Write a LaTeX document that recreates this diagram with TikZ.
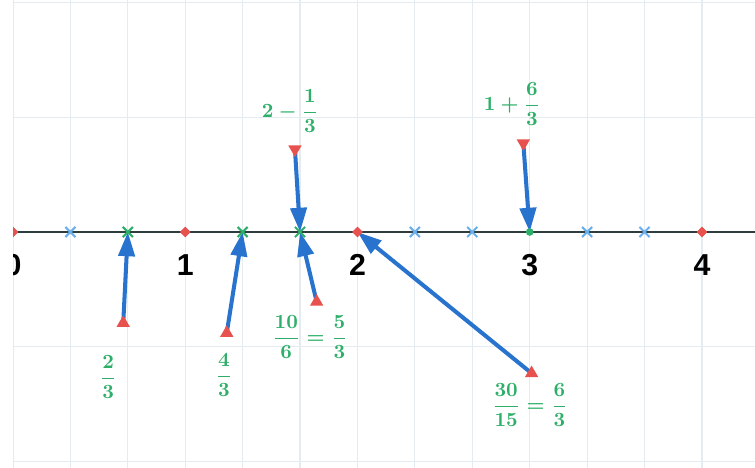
\documentclass[tikz,border=0pt]{standalone}
\usepackage{fontspec}
\usepackage{amsmath}
\newfontfamily\numfont{Liberation Sans}
\usetikzlibrary{positioning,arrows.meta,shapes.geometric,shapes.misc}
\definecolor{nlgreen}{RGB}{45,175,105}
\definecolor{nlblue}{RGB}{40,115,205}
\definecolor{nlred}{RGB}{232,82,78}
\definecolor{nlsky}{RGB}{105,175,235}
\definecolor{nlgrid}{RGB}{228,236,241}
\definecolor{nlaxis}{RGB}{45,60,60}

\begin{document}
\begin{tikzpicture}[x=3cm,y=3cm,>={Triangle[length=12pt,width=8pt]},
    arr/.style={->,nlblue,line width=2pt},
    lbl/.style={text=nlgreen,font=\normalsize\boldmath,inner sep=1pt},
    num/.style={font=\numfont\bfseries\fontsize{15}{17}\selectfont,inner sep=0pt},
    gridline/.style={nlgrid,line width=0.6pt},
    tup/.style={regular polygon,regular polygon sides=3,fill=nlred,minimum size=7.6pt,inner sep=0pt},
    tdown/.style={tup,shape border rotate=180},
    intpt/.style={diamond,fill=nlred,minimum size=5.5pt,inner sep=0pt},
    gdot/.style={circle,fill=nlgreen,minimum size=3.8pt,inner sep=0pt},
    xgreen/.style={cross out,draw=nlgreen,line width=1pt,minimum size=4pt,inner sep=0pt},
    xblue/.style={xgreen,draw=nlsky}]
  \useasboundingbox (-0.0755,-1.37) rectangle (4.308,1.347);
  \clip (0,-1.37) rectangle (4.308,1.347);
  % grid and axis
  \foreach \k in {0,...,12}
    \draw[gridline] (\k/3,-1.4) -- (\k/3,1.4);
  \foreach \j in {-2,-1,1,2}
    \draw[gridline] (0,\j*2/3) -- (4.4,\j*2/3);
  \draw[nlaxis,line width=1pt] (0,0) -- (4.4,0);

  % points on the line
  \coordinate (p23) at (2/3,0);
  \coordinate (p43) at (4/3,0);
  \coordinate (p53) at (5/3,0);
  \coordinate (p2) at (2,0);
  \coordinate (p3) at (3,0);

  % tails
  \coordinate (t1) at (0.640,-0.528);
  \coordinate (t2) at (1.241,-0.586);
  \coordinate (t3) at (1.763,-0.405);
  \coordinate (t4) at (1.637,0.480);
  \coordinate (t5) at (2.963,0.515);
  \coordinate (t6) at (3.011,-0.820);

  \draw[arr] (t1) -- (p23);
  \draw[arr] (t2) -- (p43);
  \draw[arr] (t3) -- (p53);
  \draw[arr] (t4) -- (p53);
  \draw[arr] (t5) -- (p3);
  \draw[arr] (t6) -- (p2);

  \foreach \k in {1,7,8,10,11}
    \node[xblue] (x\k) at (\k/3,0) {};
  \foreach \k in {0,1,2,4}
    \node[intpt] (n\k) at (\k,0) {};
  \node[xgreen] (g23) at (p23) {};
  \node[xgreen] (g43) at (p43) {};
  \node[xgreen] (g53) at (p53) {};
  \node[gdot] (g3) at (p3) {};

  \foreach \k in {0,...,4}
    \node[num] (lab\k) at (\k,-0.19) {\k};

  \node[tup] (m1) at (t1) {};
  \node[tup] (m2) at (t2) {};
  \node[tup] (m3) at (t3) {};
  \node[tdown] (m4) at (t4) {};
  \node[tdown] (m5) at (t5) {};
  \node[tup] (m6) at (t6) {};

  % labels
  \node[lbl] (l1) at (0.552,-0.842) {$\dfrac{2}{3}$};
  \node[lbl] (l2) at (1.225,-0.830) {$\dfrac{4}{3}$};
  \node[lbl] (l3) at (1.724,-0.610) {$\dfrac{10}{6}=\dfrac{5}{3}$};
  \node[lbl] (l4) at (1.608,0.702) {$2-\dfrac{1}{3}$};
  \node[lbl] (l5) at (2.897,0.743) {$1+\dfrac{6}{3}$};
  \node[lbl] (l6) at (3.001,-1.004) {$\dfrac{30}{15}=\dfrac{6}{3}$};
\end{tikzpicture}
\end{document}
